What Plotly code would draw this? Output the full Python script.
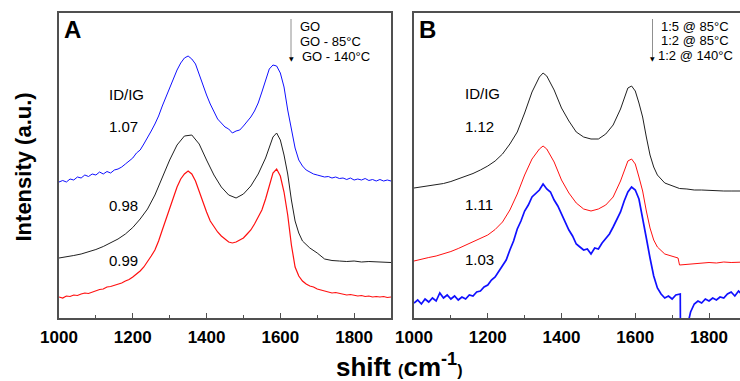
import plotly.graph_objects as go

# ---------------- data ----------------
# Panel A : GO (blue), GO - 85°C (black), GO - 140°C (red)
a_blue_x = list(range(1000, 1901, 10))
a_blue_y = [136, 137.5, 136, 139, 138, 141, 140, 143, 141.5, 144, 143, 146, 144, 146.5, 145, 148,
            149, 151, 154, 157, 160, 165, 168, 174, 180, 187, 194, 202, 212, 221, 230, 240, 248,
            255, 260, 262, 259, 254, 243, 232, 223, 214, 206, 199, 195, 191, 189, 185, 187, 188,
            192, 196, 201, 207, 215, 226, 238, 249, 253, 252, 245, 231, 208, 187, 170, 158, 152,
            148, 146, 144, 143, 142, 141, 141.5, 140, 141, 139.5, 140, 138.5, 140, 138, 139, 138,
            139.5, 137.5, 138.5, 137, 138.5, 137, 138, 137]

a_black_x = [1000, 1020, 1040, 1060, 1080, 1100, 1120, 1140, 1160, 1180, 1200, 1220, 1240, 1260,
             1280, 1300, 1320, 1340, 1360, 1380, 1400, 1420, 1440, 1460, 1480, 1500, 1520, 1540,
             1560, 1570, 1580, 1590, 1600, 1610, 1620, 1630, 1640, 1650, 1660, 1680, 1700, 1720,
             1740, 1760, 1780, 1800, 1820, 1840, 1860, 1880, 1900]
a_black_y = [60, 61, 62.5, 64, 66, 68.5, 71.5, 75, 79, 84, 90.5, 99, 109, 123, 141, 158, 173, 182,
             183, 174, 158, 143, 131, 123, 120, 124, 132, 144, 160, 171, 181, 185, 178, 163, 144,
             118, 97, 85, 77, 70, 65, 59, 57.5, 57, 56.5, 57, 56, 56.5, 56, 56, 55.5]

a_red_x = list(range(1000, 1901, 10))
a_red_y = [21, 20, 22, 21.5, 23, 22.5, 24, 25, 24.5, 26, 27, 28.5, 29, 31, 31.5, 32.5, 34, 35, 37,
           38.5, 41, 44, 47, 51, 56, 62, 68, 77, 88, 99, 110, 121, 131, 139, 144, 147, 144, 137,
           126, 115, 106, 97, 91, 86, 82, 79, 76, 75, 76, 78, 80, 84, 88, 94, 101, 108, 119, 132,
           145, 149, 142, 126, 103, 73, 51, 42, 37, 34, 32, 31, 29, 28, 27, 26, 25, 25.5, 24.5,
           24, 23, 23.5, 22.5, 22, 22.5, 21.5, 22, 21, 21.5, 21, 21.5, 20.5, 21]

# Panel B : 1:5 @ 85°C (black), 1:2 @ 85°C (red), 1:2 @ 140°C (blue)
b_black_x = [1000, 1020, 1040, 1060, 1080, 1100, 1120, 1140, 1160, 1180, 1200, 1220, 1240, 1260,
             1280, 1300, 1320, 1340, 1350, 1360, 1380, 1400, 1420, 1440, 1460, 1480, 1500, 1520,
             1540, 1560, 1570, 1580, 1590, 1600, 1610, 1620, 1630, 1640, 1650, 1660, 1680, 1700,
             1720, 1740, 1760, 1780, 1800, 1820, 1840, 1860, 1880, 1900]
b_black_y = [130, 131, 132, 133.5, 134.5, 136.5, 139, 141.5, 144.5, 148, 152, 157, 164, 174, 186,
             205, 226, 241, 245, 242, 228, 210, 197, 186, 181, 179, 179, 184, 193, 209, 220, 230,
             232, 227, 215, 201, 181, 163, 151, 143, 135, 132, 129.5, 129, 128, 128, 127.5, 127.5,
             127, 127, 127, 127]

b_red_x = [1000, 1020, 1040, 1060, 1080, 1100, 1120, 1140, 1160, 1180, 1200, 1220, 1240, 1260,
           1280, 1300, 1320, 1340, 1350, 1360, 1380, 1400, 1420, 1440, 1460, 1480, 1500, 1520,
           1540, 1560, 1570, 1580, 1590, 1600, 1610, 1620, 1630, 1640, 1650, 1660, 1680, 1700,
           1716, 1720, 1740, 1760, 1780, 1800, 1820, 1840, 1860, 1880, 1900]
b_red_y = [57, 59, 60.5, 62, 64, 66.5, 69.5, 73, 76.5, 79.5, 83, 88.5, 96, 108, 124, 143, 159, 169,
           172, 169, 156, 138, 125, 115, 109, 107, 109, 113, 121, 137, 148, 157, 159, 154, 141,
           127, 107, 90, 78, 71, 64, 61.5, 60, 53, 53.5, 54.5, 55, 55.5, 55, 56, 55.5, 56, 56]

b_blue_x = [1000, 1010, 1020, 1030, 1040, 1050, 1060, 1070, 1080, 1090, 1100, 1110, 1120, 1130,
            1140, 1150, 1160, 1170, 1180, 1190, 1200, 1210, 1220, 1230, 1240, 1250, 1260, 1270,
            1280, 1290, 1300, 1310, 1320, 1330, 1340, 1350, 1360, 1370, 1380, 1390, 1400, 1410,
            1420, 1430, 1440, 1450, 1460, 1470, 1480, 1490, 1500, 1510, 1520, 1530, 1540, 1550,
            1560, 1570, 1580, 1590, 1600, 1610, 1620, 1630, 1640, 1650, 1660, 1670, 1680, 1690,
            1700, 1710, 1722, 1723, 1740, 1750, 1760, 1770, 1780, 1790, 1800, 1810, 1820, 1830,
            1840, 1850, 1860, 1870, 1880, 1890, 1900]
b_blue_y = [15, 18, 14, 19, 16, 20, 17, 25, 20, 23, 19, 22, 18, 21, 19, 23, 22, 26, 27, 31, 33,
            38, 41, 47, 53, 58, 68, 77, 89, 97, 107, 113, 121, 125, 128, 134, 129, 126, 118, 112,
            104, 96, 88, 82, 74, 71, 68, 69, 64, 70, 69, 75, 80, 84, 91, 98, 106, 117, 126, 131,
            128, 119, 101, 80, 60, 42, 30, 24, 20, 22, 19, 23, 24, -60, -10, 6, 14, 17, 15, 19,
            17, 20, 18, 21, 20, 24, 26, 22, 27, 23, 25]

tick_vals = [1000, 1200, 1400, 1600, 1800]
tick_text = ["1000", "1200", "1400", "1600", "1800"]
ratio_a = ["1.07", "0.98", "0.99"]
ratio_b = ["1.12", "1.11", "1.03"]
legend_a = ["GO", "GO - 85°C", "GO - 140°C"]
legend_b = ["1:5 @ 85°C", "1:2 @ 85°C", "1:2 @ 140°C"]

# ---------------- figure ----------------
W, H = 740, 381
FONT = "Liberation Sans, Arial, sans-serif"
BLUE, RED, BLACK = "#1010ff", "#ff1010", "#202020"
FRAME = "#505050"


def px(x):
    return x / W


def py(y):
    return 1 - y / H


fig = go.Figure()
fig.add_trace(go.Scatter(x=a_blue_x, y=a_blue_y, mode="lines", line=dict(color=BLUE, width=1), xaxis="x", yaxis="y"))
fig.add_trace(go.Scatter(x=a_black_x, y=a_black_y, mode="lines", line=dict(color=BLACK, width=1), xaxis="x", yaxis="y"))
fig.add_trace(go.Scatter(x=a_red_x, y=a_red_y, mode="lines", line=dict(color=RED, width=1.2), xaxis="x", yaxis="y"))
fig.add_trace(go.Scatter(x=b_black_x, y=b_black_y, mode="lines", line=dict(color=BLACK, width=1), xaxis="x2", yaxis="y2"))
fig.add_trace(go.Scatter(x=b_red_x, y=b_red_y, mode="lines", line=dict(color=RED, width=1), xaxis="x2", yaxis="y2"))
fig.add_trace(go.Scatter(x=b_blue_x, y=b_blue_y, mode="lines", line=dict(color=BLUE, width=1.7), xaxis="x2", yaxis="y2"))

ydom = [1 - 318 / H, 1 - 13 / H]
xcommon = dict(showline=True, linecolor=FRAME, linewidth=1.5, mirror=True, ticks="inside",
               ticklen=5, tickwidth=1.2, tickcolor=FRAME, tickvals=tick_vals, ticktext=tick_text,
               tickfont=dict(family=FONT, size=17, color="#000", weight="bold"),
               minor=dict(ticks="inside", ticklen=3, tickwidth=1.2, tickcolor=FRAME, dtick=100, tick0=1000),
               showgrid=False, zeroline=False, ticklabelstandoff=3, automargin=False)
ycommon = dict(showline=True, linecolor=FRAME, linewidth=1.5, mirror=True, ticks="",
               showticklabels=False, showgrid=False, zeroline=False, range=[0, 305], domain=ydom,
               automargin=False)

fig.update_layout(
    width=W, height=H, margin=dict(l=0, r=0, t=0, b=0, pad=0, autoexpand=False),
    paper_bgcolor="white", plot_bgcolor="white", showlegend=False,
    xaxis=dict(domain=[59 / W, 391 / W], range=[1000, 1900], anchor="y", **xcommon),
    yaxis=dict(anchor="x", **ycommon),
    xaxis2=dict(domain=[414 / W, 1.0], range=[1000, 1884], anchor="y2", **xcommon),
    yaxis2=dict(anchor="x2", **ycommon),
)

ann = []


def text(x, y, s, size, bold=False, xanchor="left", angle=0):
    ann.append(dict(x=px(x), y=py(y), xref="paper", yref="paper", text=s, showarrow=False,
                    xanchor=xanchor, yanchor="middle", textangle=angle,
                    font=dict(family=FONT, size=size, color="#000", weight="bold" if bold else "normal")))


# panel letters
text(62, 30, "A", 24, bold=True)
text(417, 30, "B", 24, bold=True)
# ID/IG labels
text(107, 94.5, "ID/IG", 15)
text(463, 94, "ID/IG", 15)
for s, yy in zip(ratio_a, [126.5, 205, 260]):
    text(107, yy, s, 15)
for s, yy in zip(ratio_b, [126, 204, 259.5]):
    text(463, yy, s, 15)
# legends
for s, yy, xx in zip(legend_a, [26.5, 41.7, 57], [298, 298, 300]):
    text(xx, yy, s, 13)
for s, yy, xx in zip(legend_b, [26, 40.5, 55], [659, 659, 656]):
    text(xx, yy, s, 13)
# arrows (gray shaft + black head)
shapes = []
for xx in [291, 652.5]:
    shapes.append(dict(type="line", xref="paper", yref="paper", x0=px(xx), x1=px(xx),
                       y0=py(19), y1=py(57), line=dict(color="#909090", width=1)))
    ann.append(dict(x=px(xx), y=py(58), xref="paper", yref="paper", text="▼", showarrow=False,
                    xanchor="center", yanchor="middle", font=dict(family="DejaVu Sans", size=6, color="#000")))
# axis titles
text(22.5, 167, "Intensity (a.u.)", 22, bold=True, xanchor="center", angle=-90)
ann.append(dict(x=px(399), y=py(365), xref="paper", yref="paper", showarrow=False,
                xanchor="center", yanchor="middle",
                text="<b>shift <span style='font-size:16px'>(</span>cm<sup>-1</sup><span style='font-size:16px'>)</span></b>",
                font=dict(family=FONT, size=26, color="#000")))

fig.update_layout(annotations=ann, shapes=shapes)
fig.write_html("out.html", config={"displayModeBar": False},
               post_script="document.body.style.margin='0px';document.body.style.overflow='hidden';")
